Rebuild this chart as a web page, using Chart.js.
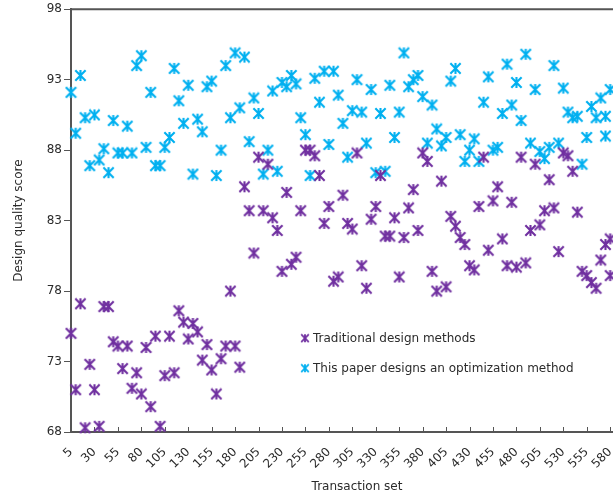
<!DOCTYPE html>
<html><head><meta charset="utf-8">
<script src="https://cdn.jsdelivr.net/npm/chart.js@4.4.1/dist/chart.umd.min.js"></script>
<style>html,body{margin:0;padding:0;background:#fff;overflow:hidden;width:613px;height:495px}canvas{display:block}</style>
</head><body>
<canvas id="c" width="650" height="495"></canvas>
<script>
// ---- data ----
const seriesNames = ['Traditional design methods', 'This paper designs an optimization method'];
const transactionSet = [5,10,15,20,25,30,35,40,45,50,55,60,65,70,75,80,85,90,95,100,
  105,110,115,120,125,130,135,140,145,150,155,160,165,170,175,180,185,190,195,200,
  205,210,215,220,225,230,235,240,245,250,255,260,265,270,275,280,285,290,295,300,
  305,310,315,320,325,330,335,340,345,350,355,360,365,370,375,380,385,390,395,400,
  405,410,415,420,425,430,435,440,445,450,455,460,465,470,475,480,485,490,495,500,
  505,510,515,520,525,530,535,540,545,550,555,560,565,570,575,580];
const traditionalScores = [75.0,71.0,77.1,68.3,72.8,71.0,68.4,76.9,76.9,74.4,
  74.1,72.5,74.1,71.1,72.2,70.7,74.0,69.8,74.8,68.4,
  72.0,74.8,72.2,76.6,75.8,74.6,75.7,75.1,73.1,74.2,
  72.4,70.7,73.2,74.1,78.0,74.1,72.6,85.4,83.7,80.7,
  87.5,83.7,87.0,83.2,82.3,79.4,85.0,79.9,80.4,83.7,
  88.0,88.0,87.6,86.2,82.8,84.0,78.7,79.0,84.8,82.8,
  82.4,87.8,79.8,78.2,83.1,84.0,86.2,81.9,81.9,83.2,
  79.0,81.8,83.9,85.2,82.3,87.8,87.2,79.4,78.0,85.8,
  78.3,83.3,82.6,81.8,81.3,79.8,79.5,84.0,87.5,80.9,
  84.4,85.4,81.7,79.8,84.3,79.7,87.5,80.0,82.3,87.0,
  82.7,83.7,85.9,83.9,80.8,87.8,87.6,86.5,83.6,79.4,
  79.1,78.6,78.2,80.2,81.3,81.7];
const optimizedScores = [92.1,89.2,93.3,90.3,86.9,90.5,87.3,88.1,86.4,90.1,
  87.8,87.8,89.7,87.8,94.0,94.7,88.2,92.1,86.9,86.9,
  88.2,88.9,93.8,91.5,89.9,92.6,86.3,90.2,89.3,92.5,
  92.9,86.2,88.0,94.0,90.3,94.9,91.0,94.6,88.6,91.7,
  90.6,86.3,88.0,92.2,86.5,92.8,92.5,93.3,92.7,90.3,
  89.1,86.2,93.1,91.4,93.6,88.4,93.6,91.9,89.9,87.5,
  90.8,93.0,90.7,88.5,92.3,86.4,90.6,86.5,92.6,88.9,
  90.7,94.9,92.5,93.0,93.3,91.8,88.5,91.2,89.5,88.3,
  88.9,92.9,93.8,89.1,87.2,88.0,88.8,87.2,91.4,93.2,
  88.0,88.2,90.6,94.1,91.2,92.8,90.1,94.8,88.5,92.3,
  87.9,87.4,88.2,94.0,88.5,92.4,90.7,90.3,90.4,87.0,
  88.9,91.1,90.3,91.7,90.4,92.3];
// extra points sharing an x position with another point
const traditionalExtraX = [580];
const traditionalExtraY = [79.1];
const optimizedExtraX = [575];
const optimizedExtraY = [89.0];
const xTickLabels = [5,30,55,80,105,130,155,180,205,230,255,280,305,330,355,380,405,430,455,480,505,530,555,580];
const yTickLabels = [68,73,78,83,88,93,98];

// ---- style ----
const FONT = 'DejaVu Sans';
const TEXT = '#2b2b2b';
const AXIS = '#555555';
const PURPLE = '#7030A0';
const BLUE = '#00B0F0';

function makeMarker(color, size, lw) {
  const c = document.createElement('canvas');
  c.width = size; c.height = size;
  const g = c.getContext('2d');
  const p = lw / 2 + 0.3, q = size - p, m = size / 2;
  g.strokeStyle = color; g.lineWidth = lw; g.lineCap = 'butt';
  g.beginPath();
  g.moveTo(p, p); g.lineTo(q, q);
  g.moveTo(q, p); g.lineTo(p, q);
  g.moveTo(m, p - 0.3); g.lineTo(m, q + 0.3);
  g.stroke();
  return c;
}
const purpleMarker = makeMarker(PURPLE, 13, 2.1);
const blueMarker = makeMarker(BLUE, 13, 2.1);
const purpleLegend = makeMarker(PURPLE, 10, 1.8);
const blueLegend = makeMarker(BLUE, 10, 1.8);

function toPoints(xs, ys, ex, ey) {
  const pts = xs.map((x, i) => ({x: x, y: ys[i]}));
  ex.forEach((x, i) => pts.push({x: x, y: ey[i]}));
  return pts;
}

const framePlugin = {
  id: 'frame',
  beforeDatasetsDraw(chart) {
    const {ctx, chartArea: a, scales: {x}} = chart;
    ctx.save();
    ctx.strokeStyle = AXIS;
    ctx.lineWidth = 2;
    ctx.beginPath();
    ctx.moveTo(a.left - 1, a.top); ctx.lineTo(a.right + 1, a.top);
    ctx.moveTo(a.right, a.top); ctx.lineTo(a.right, a.bottom);
    ctx.stroke();
    ctx.lineWidth = 1;
    ctx.beginPath();
    x.ticks.forEach(t => {
      const px = Math.round(x.getPixelForValue(t.value)) + 0.5;
      ctx.moveTo(px, a.bottom); ctx.lineTo(px, a.bottom - 5);
    });
    ctx.stroke();
    ctx.restore();
  }
};

const legendPlugin = {
  id: 'innerLegend',
  afterDatasetsDraw(chart) {
    const {ctx, chartArea: a} = chart;
    const markers = [purpleLegend, blueLegend];
    ctx.save();
    ctx.font = '12px "' + FONT + '"';
    ctx.fillStyle = TEXT;
    ctx.textBaseline = 'middle';
    ctx.textAlign = 'left';
    chart.data.datasets.forEach((ds, i) => {
      const lx = a.left + 234, ly = a.top + 329 + i * 30;
      const m = markers[i];
      ctx.drawImage(m, lx - m.width / 2, ly - m.height / 2);
      ctx.fillText(ds.label, lx + 8, ly + 0.5);
    });
    ctx.restore();
  }
};

new Chart(document.getElementById('c'), {
  type: 'scatter',
  data: {
    datasets: [
      {label: seriesNames[0], data: toPoints(transactionSet, traditionalScores, traditionalExtraX, traditionalExtraY),
       pointStyle: purpleMarker, pointRadius: 6, borderColor: PURPLE, backgroundColor: PURPLE, clip: false},
      {label: seriesNames[1], data: toPoints(transactionSet, optimizedScores, optimizedExtraX, optimizedExtraY),
       pointStyle: blueMarker, pointRadius: 6, borderColor: BLUE, backgroundColor: BLUE, clip: false}
    ]
  },
  options: {
    responsive: false,
    animation: false,
    devicePixelRatio: 1,
    layout: {padding: {top: 9, right: 5, bottom: 0, left: 0}},
    plugins: {legend: {display: false}, tooltip: {enabled: false}},
    scales: {
      x: {
        type: 'linear', position: 'bottom', min: 5, max: 615,
        afterBuildTicks: s => { s.ticks = xTickLabels.map(v => ({value: v})); },
        afterFit: s => { s.height = 63; },
        grid: {display: false, drawTicks: false, drawOnChartArea: false},
        border: {display: true, color: AXIS, width: 2},
        ticks: {autoSkip: false, minRotation: 45, maxRotation: 45, padding: 13, color: TEXT,
                font: {family: FONT, size: 12}, callback: v => String(v)},
        title: {display: true, text: 'Transaction set', color: TEXT, font: {family: FONT, size: 12},
                padding: {top: 0, bottom: 1}}
      },
      y: {
        min: 68, max: 98,
        afterBuildTicks: s => { s.ticks = yTickLabels.map(v => ({value: v})); },
        afterFit: s => { s.width = 71; },
        grid: {display: true, drawOnChartArea: false, drawTicks: true, tickLength: 7, color: AXIS, lineWidth: 1},
        border: {display: true, color: AXIS, width: 2},
        ticks: {padding: 2, color: TEXT, font: {family: FONT, size: 12}},
        title: {display: true, text: 'Design quality score', color: TEXT, font: {family: FONT, size: 12},
                padding: {top: 12, bottom: 0}}
      }
    }
  },
  plugins: [framePlugin, legendPlugin]
});
</script>
</body></html>
